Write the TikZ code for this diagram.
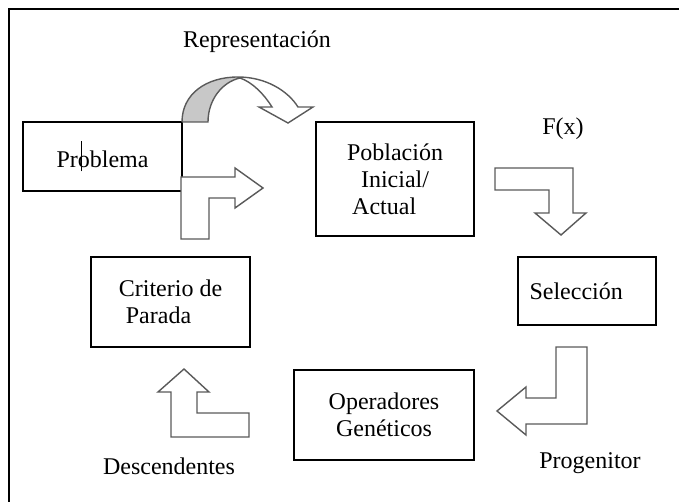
\documentclass[tikz,border=0pt]{standalone}
\usepackage{fontspec}
\setmainfont{Liberation Serif}
\usetikzlibrary{positioning}
\definecolor{arrowedge}{RGB}{90, 90, 90}
\definecolor{arrowshade}{RGB}{200, 200, 200}

\begin{document}
\begin{tikzpicture}[
        x=0.5pt, y=-0.5pt,
        box/.style={draw=black, line width=1pt, inner sep=0pt, font=\fontsize{12}{13.5}\selectfont, align=center},
        lbl/.style={font=\fontsize{12}{13.5}\selectfont},
        blockarrow/.style={draw=arrowedge, line width=0.7pt, line join=miter, fill=white}
    ]
        \useasboundingbox (0,0) rectangle (679,502);
        % Frame
        \draw[line width=1pt] (9,502) -- (9,9) -- (679,9);

        % Boxes
        \node[box, minimum width=79.5pt, minimum height=34.5pt] (problema) at (102.5,156.5)
            {Pr\rlap{\kern1.5pt\rule[-2pt]{0.5pt}{15pt}}oblema};
        \node[box, minimum width=79pt, minimum height=57pt] (poblacion) at (395,179)
            {Población\\ Inicial/\\ Actual\hspace*{0.9em}};
        \node[box, minimum width=69pt, minimum height=34pt] (seleccion) at (587,291)
            {Selección\hspace*{0.9em}};
        \node[box, minimum width=90pt, minimum height=45pt] (operadores) at (384,415)
            {Operadores\\ Genéticos};
        \node[box, minimum width=79.5pt, minimum height=45pt] (criterio) at (170.5,302)
            {Criterio de\\ Parada\hspace*{1em}};

        % Labels
        \node[lbl] (representacion) at (257,42) {Representación};
        \node[lbl] (fx) at (563,129) {F(x)};
        \node[lbl] (progenitor) at (590,463) {Progenitor};
        \node[lbl] (descendentes) at (169,466) {Descendentes};

        % Representacion (curved arrow)
        \fill[arrowshade] (182,122) .. controls (182,94) and (206,77) .. (238,77)
            -- (240,78) .. controls (222,82) and (208,100) .. (208,122) -- cycle;
        \draw[blockarrow, fill=none] (182,122) .. controls (182,94) and (206,77) .. (238,77)
            .. controls (266,77) and (288,91) .. (298,107) -- (313,107) -- (288,123) -- (259,107) -- (272,107)
            .. controls (264,94) and (252,82) .. (240,78)
            .. controls (222,82) and (208,100) .. (208,122) -- (182,122);

        % Problema -> Poblacion
        \draw[blockarrow] (181,239) -- (181,177) -- (235,177) -- (235,168) -- (263,188) -- (235,208)
            -- (235,198) -- (209,198) -- (209,239) -- cycle;

        % Poblacion -> Seleccion
        \draw[blockarrow] (495,168) -- (573,168) -- (573,213) -- (586,213) -- (561,235) -- (535,213)
            -- (549,213) -- (549,190) -- (495,190) -- cycle;

        % Seleccion -> Operadores
        \draw[blockarrow] (556,347) -- (587,347) -- (587,424) -- (526,424) -- (526,435) -- (497,411)
            -- (526,387) -- (526,398) -- (556,398) -- cycle;

        % Operadores -> Criterio
        \draw[blockarrow] (184,369) -- (209,392) -- (197,392) -- (197,413) -- (249,413) -- (249,437)
            -- (171,437) -- (171,392) -- (158,392) -- cycle;
    \end{tikzpicture}
\end{document}
